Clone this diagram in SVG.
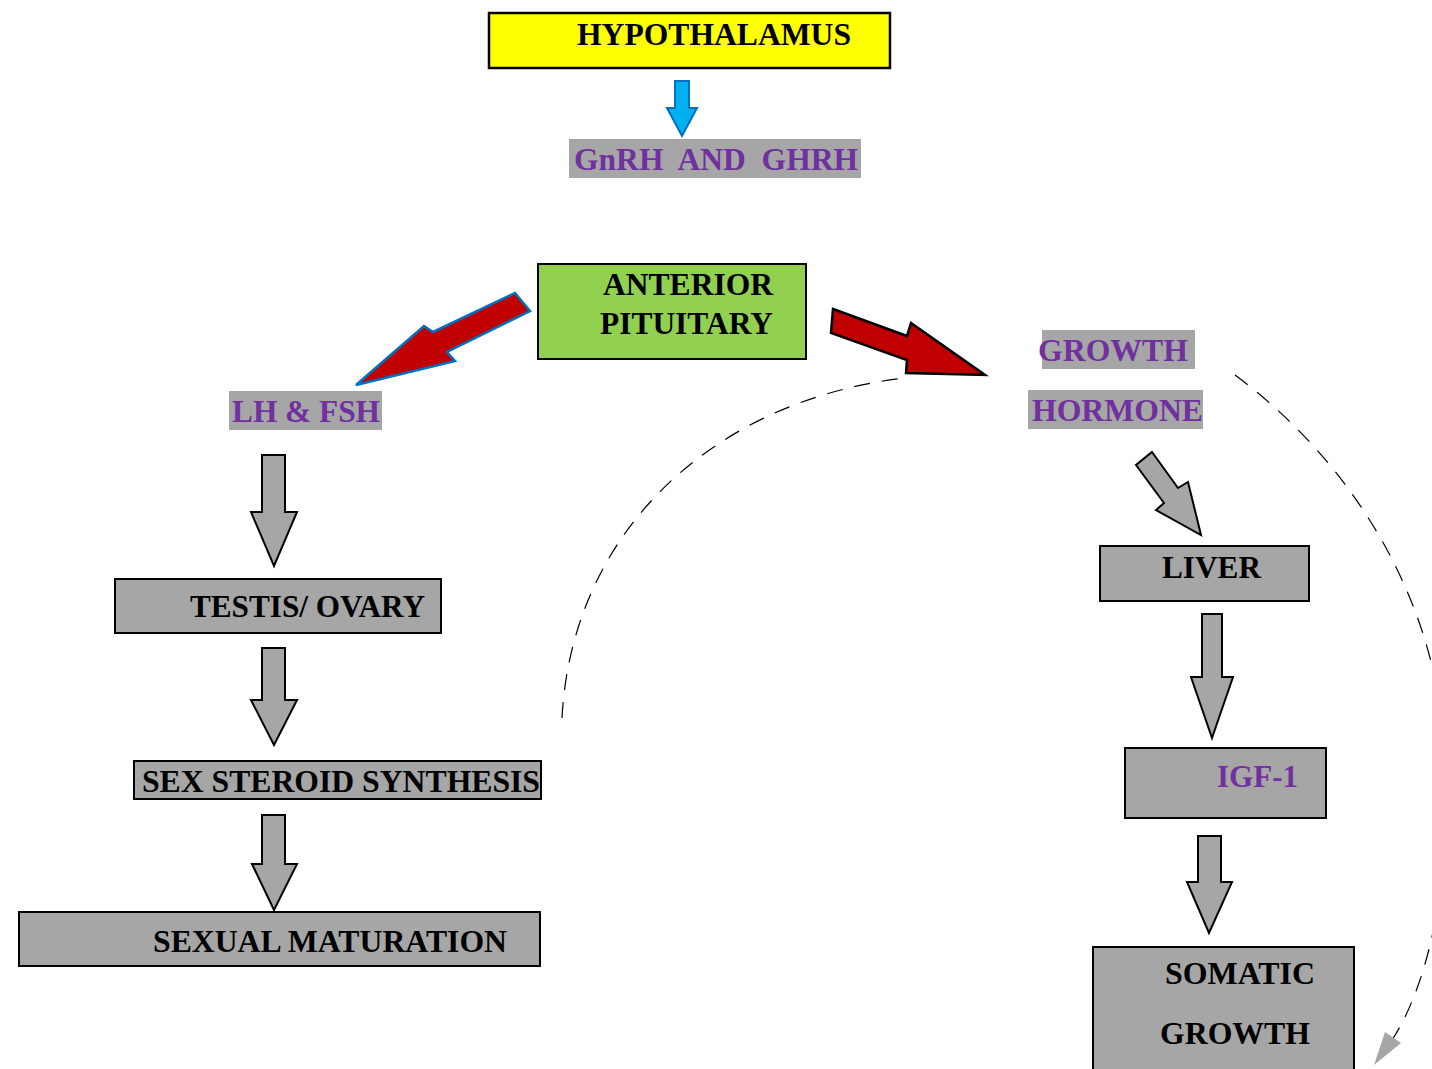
<svg xmlns="http://www.w3.org/2000/svg" width="1432" height="1069" viewBox="0 0 1432 1069">
<style>
.t{font-family:"Liberation Serif","Times New Roman",serif;font-weight:bold;font-size:31px;fill:#000;white-space:pre}
.p{fill:#7030a0}
.box{fill:#a6a6a6;stroke:#000;stroke-width:2}
.hl{fill:#a6a6a6}
.garr{fill:#a6a6a6;stroke:#000;stroke-width:2;stroke-linejoin:miter}
.dash{fill:none;stroke:#000;stroke-width:1.2;stroke-dasharray:16 12}
</style>
<rect width="1432" height="1069" fill="#fff"/>
<g id="hypothalamus">
<rect x="489" y="13" width="401" height="55" fill="#ffff00" stroke="#000" stroke-width="2.5"/>
<text class="t" x="577" y="45" textLength="274" lengthAdjust="spacingAndGlyphs">HYPOTHALAMUS</text>
</g>
<g id="gnrh">
<rect class="hl" x="569" y="139" width="292" height="39"/>
<text class="t p" x="574" y="170" xml:space="preserve" textLength="284" lengthAdjust="spacingAndGlyphs">GnRH  AND  GHRH</text>
</g>
<g id="anterior-pituitary">
<rect x="538" y="264" width="268" height="95" fill="#92d050" stroke="#000" stroke-width="2"/>
<text class="t" x="603" y="295" textLength="170" lengthAdjust="spacingAndGlyphs">ANTERIOR</text>
<text class="t" x="600" y="334" textLength="173" lengthAdjust="spacingAndGlyphs">PITUITARY</text>
</g>
<g id="lh-fsh">
<rect class="hl" x="229" y="391" width="153" height="39"/>
<text class="t p" x="232" y="422" textLength="148" lengthAdjust="spacingAndGlyphs">LH &amp; FSH</text>
</g>
<g id="growth-hormone">
<rect class="hl" x="1042" y="330" width="153" height="39"/>
<text class="t p" x="1038" y="361" textLength="150" lengthAdjust="spacingAndGlyphs">GROWTH</text>
<rect class="hl" x="1028" y="390" width="175" height="39"/>
<text class="t p" x="1032" y="421" textLength="171" lengthAdjust="spacingAndGlyphs">HORMONE</text>
</g>
<g id="testis-ovary">
<rect class="box" x="115" y="579" width="326" height="54"/>
<text class="t" x="190" y="617" textLength="235" lengthAdjust="spacingAndGlyphs">TESTIS/ OVARY</text>
</g>
<g id="sex-steroid-synthesis">
<rect class="box" x="134" y="761" width="407" height="38" stroke-width="1.5"/>
<text class="t" x="142" y="792" textLength="398" lengthAdjust="spacingAndGlyphs">SEX STEROID SYNTHESIS</text>
</g>
<g id="sexual-maturation">
<rect class="box" x="19" y="912" width="521" height="54"/>
<text class="t" x="153" y="952" textLength="354" lengthAdjust="spacingAndGlyphs">SEXUAL MATURATION</text>
</g>
<g id="liver">
<rect class="box" x="1100" y="546" width="209" height="55"/>
<text class="t" x="1162" y="578" textLength="99" lengthAdjust="spacingAndGlyphs">LIVER</text>
</g>
<g id="igf-1">
<rect class="box" x="1125" y="748" width="201" height="70"/>
<text class="t p" x="1217" y="787" textLength="81" lengthAdjust="spacingAndGlyphs">IGF-1</text>
</g>
<g id="somatic-growth">
<rect class="box" x="1093" y="947" width="261" height="130"/>
<text class="t" x="1165" y="984" textLength="150" lengthAdjust="spacingAndGlyphs">SOMATIC</text>
<text class="t" x="1160" y="1044" textLength="150" lengthAdjust="spacingAndGlyphs">GROWTH</text>
</g>
<g id="connectors">
<polygon points="675,81 689,81 689,108 697,108 682,136 667,108 675,108" fill="#00b0f0" stroke="#0070c0" stroke-width="2"/>
<polygon points="515,293 530,311 447,352 455,361 356,385 424,326 433,332" fill="#c00000" stroke="#0070c0" stroke-width="2.5" stroke-linejoin="miter"/>
<polygon points="833,309 907,336 911,323 985,375 906,373 907,360 831,333" fill="#c00000" stroke="#000" stroke-width="2.5"/>
<polygon class="garr" points="262,455 285,455 285,512 297,512 274,566 251,512 262,512"/>
<polygon class="garr" points="262,648 285,648 285,700 297,700 274,745 251,700 262,700"/>
<polygon class="garr" points="262,815 285,815 285,864 297,864 274,910 252,864 262,864"/>
<polygon class="garr" points="1152,452 1178,488 1188,482 1201,535 1156,510 1164,503 1136,465"/>
<polygon class="garr" points="1202,614 1222,614 1222,677 1233,677 1212,738 1191,677 1202,677"/>
<polygon class="garr" points="1198,836 1221,836 1221,882 1232,882 1209,933 1187,882 1198,882"/>
<path class="dash" d="M562,718 C572,530 715,400 905,378"/>
<path class="dash" d="M1235,375 C1350,460 1440,600 1445,760 C1452,880 1428,985 1392,1040"/>
<polygon points="1385,1032 1401,1043 1374,1065" fill="#a6a6a6"/>
</g>
</svg>
